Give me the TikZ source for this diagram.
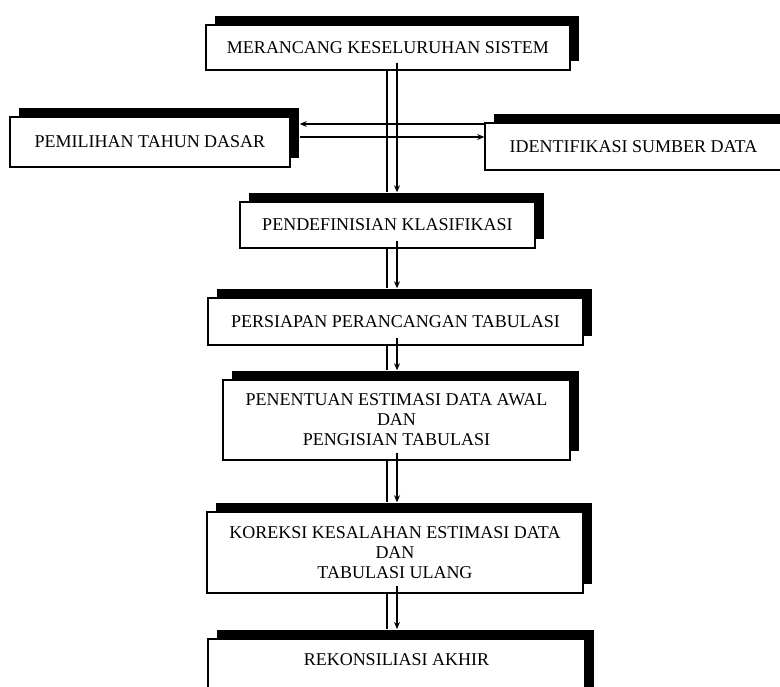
\documentclass[tikz,border=0pt]{standalone}
\usepackage{fontspec}
\setmainfont{Liberation Serif}
\usetikzlibrary{shadows,calc,arrows.meta}
\begin{document}
\begin{tikzpicture}[x=1pt,y=-1pt,
  box/.style={draw=black, line width=1.5pt, fill=white, inner sep=0pt, align=center,
    font=\fontsize{18}{20}\selectfont,
    general shadow={fill=black, shadow xshift=9pt, shadow yshift=9pt}},
  conn/.style={line width=1.5pt},
  arr/.style={line width=1.5pt, -{Stealth[length=7pt,width=6pt]}}]
\clip (0,0) rectangle (780,687);
\fill[white] (0,0) rectangle (780,687);
\node[box, minimum width=364pt, minimum height=45pt] (b1) at (388,47.5) {MERANCANG KESELURUHAN SISTEM};
\node[box, minimum width=280pt, minimum height=50pt] (b2) at (150,142) {PEMILIHAN TAHUN DASAR};
\node[box, minimum width=297pt, minimum height=47pt] (b3) at (633.5,146.5) {IDENTIFIKASI SUMBER DATA};
\node[box, minimum width=295pt, minimum height=46pt] (b4) at (387.5,225) {PENDEFINISIAN KLASIFIKASI};
\node[box, minimum width=375pt, minimum height=47pt] (b5) at (395.5,321.5) {PERSIAPAN PERANCANGAN TABULASI};
\node[box, minimum width=347pt, minimum height=80pt] (b6) at (396.5,420) {PENENTUAN ESTIMASI DATA AWAL\\DAN\\PENGISIAN TABULASI};
\node[box, minimum width=376pt, minimum height=81pt] (b7) at (395,552.5) {KOREKSI KESALAHAN ESTIMASI DATA\\DAN\\TABULASI ULANG};
\node[box, minimum width=377pt, text height=27pt, text depth=35pt, anchor=north] (b8) at (396.5,638) {REKONSILIASI AKHIR};
\coordinate (L) at (387,0);
\coordinate (R) at (397,0);
\coordinate (H1) at (0,124);
\coordinate (H2) at (0,137);
\foreach \u/\v in {b1/b4, b4/b5, b5/b6, b6/b7, b7/b8}{
  \draw[conn] (\u.south -| L) -- ($(\v.north -| L)+(0,-9)$);
  \draw[arr] ($(\u.south -| R)+(0,-8)$) -- ($(\v.north -| R)+(0,-9)$);
}
\draw[arr] (b3.west |- H1) -- ($(b2.east |- H1)+(9,0)$);
\draw[arr] ($(b2.east |- H2)+(9,0)$) -- (b3.west |- H2);
\end{tikzpicture}
\end{document}
